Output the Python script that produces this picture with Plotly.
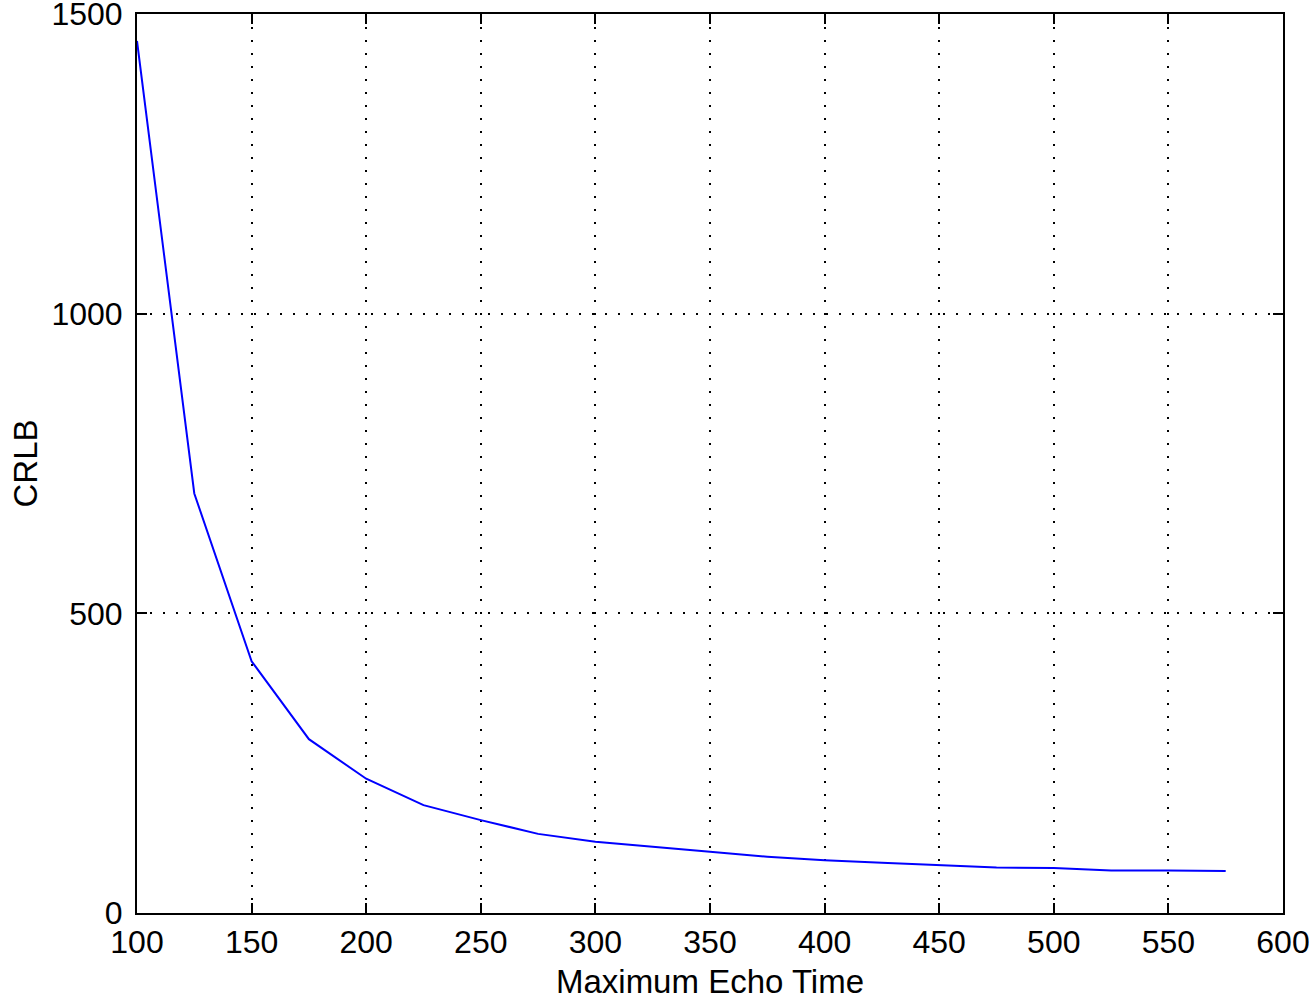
import plotly.graph_objects as go

echo_time = [100, 125, 150, 175, 200, 225, 250, 275, 300, 325, 350, 375, 400,
             425, 450, 475, 500, 525, 550, 575]
crlb = [1455, 700, 420, 290, 224, 180, 155, 132, 119, 110, 102, 94, 88,
        84, 80, 76, 75, 71, 71, 70]

x_ticks = [100, 150, 200, 250, 300, 350, 400, 450, 500, 550, 600]
y_ticks = [0, 500, 1000, 1500]

font_family = "Liberation Sans, Arial, sans-serif"

fig = go.Figure()
fig.add_trace(go.Scatter(x=echo_time, y=crlb, mode="lines",
                         line=dict(color="#0000ff", width=2), showlegend=False))

axis_common = dict(
    showline=True, linecolor="black", linewidth=2, mirror="ticks",
    ticks="inside", ticklen=10, tickwidth=2, tickcolor="black",
    showgrid=True, gridcolor="black", gridwidth=2, griddash="2px,11px",
    zeroline=False, automargin=False, ticklabeloverflow="allow",
    tickfont=dict(family=font_family, size=32, color="black"),
)

fig.update_xaxes(range=[100, 600], tickvals=x_ticks,
                 ticktext=[str(v) for v in x_ticks],
                 title=dict(text="Maximum Echo Time", standoff=22,
                            font=dict(family=font_family, size=33, color="black")),
                 **axis_common)
fig.update_yaxes(range=[0, 1500], tickvals=y_ticks,
                 ticktext=[str(v) for v in y_ticks], ticklabelstandoff=6,
                 title=dict(text="CRLB", standoff=4,
                            font=dict(family=font_family, size=33, color="black")),
                 **axis_common)

fig.update_layout(
    width=1309, height=1000,
    margin=dict(l=137, r=26, t=14, b=87),
    paper_bgcolor="white", plot_bgcolor="white",
)

fig.write_html(
    "out.html",
    config={"displayModeBar": False},
    post_script="document.body.style.margin='0';document.body.style.overflow='hidden';",
)
